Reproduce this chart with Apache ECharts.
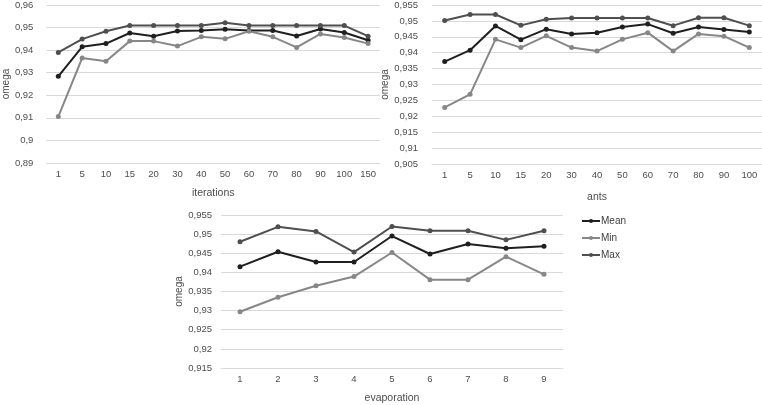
<!DOCTYPE html>
<html>
<head>
<meta charset="utf-8">
<script src="https://cdn.jsdelivr.net/npm/echarts@6/dist/echarts.min.js"></script>
<style>
  html, body { margin: 0; padding: 0; background: #fff; }
  #chart { width: 762px; height: 405px; }
</style>
</head>
<body>
<div id="chart"></div>
<script>
// iterations
const iterCats = ['1', '5', '10', '15', '20', '30', '40', '50', '60', '70', '80', '90', '100', '150'];
const iterMean = [0.9284, 0.9415, 0.9429, 0.9476, 0.9462, 0.9485, 0.9487, 0.9493, 0.9487, 0.9487, 0.9463, 0.9494, 0.9478, 0.9444];
const iterMin  = [0.9106, 0.9365, 0.9351, 0.944, 0.944, 0.9418, 0.9459, 0.945, 0.9484, 0.9459, 0.9412, 0.9472, 0.9456, 0.9429];
const iterMax  = [0.939, 0.9449, 0.9484, 0.9509, 0.9509, 0.9509, 0.9509, 0.9521, 0.9509, 0.9509, 0.9509, 0.9509, 0.9509, 0.9462];

// ants
const antsCats = ['1', '5', '10', '15', '20', '30', '40', '50', '60', '70', '80', '90', '100'];
const antsMean = [0.9372, 0.9408, 0.9484, 0.9441, 0.9474, 0.9459, 0.9463, 0.9481, 0.949, 0.9461, 0.9481, 0.9473, 0.9465];
const antsMin  = [0.9228, 0.9269, 0.9442, 0.9416, 0.9453, 0.9416, 0.9405, 0.9442, 0.9463, 0.9405, 0.9459, 0.9452, 0.9416];
const antsMax  = [0.9501, 0.952, 0.952, 0.9486, 0.9505, 0.9509, 0.9509, 0.9509, 0.9509, 0.9485, 0.951, 0.951, 0.9485];

// evaporation
const evapCats = ['1', '2', '3', '4', '5', '6', '7', '8', '9'];
const evapMean = [0.9415, 0.9454, 0.9427, 0.9427, 0.9495, 0.9448, 0.9474, 0.9463, 0.9468];
const evapMin  = [0.9297, 0.9335, 0.9365, 0.9389, 0.9452, 0.9381, 0.9381, 0.9441, 0.9395];
const evapMax  = [0.948, 0.9519, 0.9507, 0.9453, 0.952, 0.9509, 0.9509, 0.9485, 0.9509];

const colMean = '#1f1f1f';
const colMin = '#878787';
const colMax = '#4f4f4f';
const txt = '#4d4d4d';
const gridCol = '#d9d9d9';
const font = 'Liberation Sans, Arial, sans-serif';

function fmt(v) {
  return String(+v.toFixed(3)).replace('.', ',');
}

function xAx(gi, cats, name, gap) {
  return {
    type: 'category', gridIndex: gi, data: cats, boundaryGap: true,
    name: name, nameLocation: 'middle', nameGap: gap,
    nameTextStyle: { color: txt, fontSize: 10.5, fontFamily: font },
    axisTick: { show: false },
    axisLine: { lineStyle: { color: gridCol, width: 1 } },
    axisLabel: { color: txt, fontSize: 9.5, fontFamily: font, margin: 6 }
  };
}

function yAx(gi, min, max, step, gap, margin) {
  return {
    type: 'value', gridIndex: gi, min: min, max: max, interval: step,
    name: 'omega', nameLocation: 'middle', nameGap: gap, nameRotate: 90,
    nameTextStyle: { color: txt, fontSize: 10, fontFamily: font },
    axisLine: { show: false }, axisTick: { show: false },
    splitLine: { lineStyle: { color: gridCol, width: 1 } },
    axisLabel: { color: txt, fontSize: 9.5, fontFamily: font, margin: margin, formatter: fmt }
  };
}

function line(name, gi, data, color) {
  return {
    name: name, type: 'line', xAxisIndex: gi, yAxisIndex: gi, data: data,
    symbol: 'circle', symbolSize: 5, showSymbol: true,
    lineStyle: { color: color, width: 2 },
    itemStyle: { color: color },
    animation: false
  };
}

const chart = echarts.init(document.getElementById('chart'));
chart.setOption({
  animation: false,
  backgroundColor: '#fff',
  grid: [
    { left: 34, top: 4, width: 346, height: 159 },
    { left: 432, top: 5, width: 330, height: 159 },
    { left: 221, top: 215, width: 342, height: 160 }
  ],
  legend: {
    data: ['Mean', 'Min', 'Max'],
    orient: 'vertical', left: 576, top: 211,
    itemWidth: 18, itemHeight: 5, itemGap: 7,
    textStyle: { color: '#404040', fontSize: 10, fontFamily: font, padding: [0, 0, 0, -4] }
  },
  xAxis: [
    xAx(0, iterCats, 'iterations', 25),
    xAx(1, antsCats, 'ants', 28),
    xAx(2, evapCats, 'evaporation', 25)
  ],
  yAxis: [
    yAx(0, 0.89, 0.96, 0.01, 33, 13),
    yAx(1, 0.905, 0.955, 0.005, 37, 14),
    yAx(2, 0.915, 0.955, 0.005, 37, 9)
  ],
  series: [
    line('Mean', 0, iterMean, colMean),
    line('Min', 0, iterMin, colMin),
    line('Max', 0, iterMax, colMax),
    line('Mean', 1, antsMean, colMean),
    line('Min', 1, antsMin, colMin),
    line('Max', 1, antsMax, colMax),
    line('Mean', 2, evapMean, colMean),
    line('Min', 2, evapMin, colMin),
    line('Max', 2, evapMax, colMax)
  ]
});
</script>
</body>
</html>
